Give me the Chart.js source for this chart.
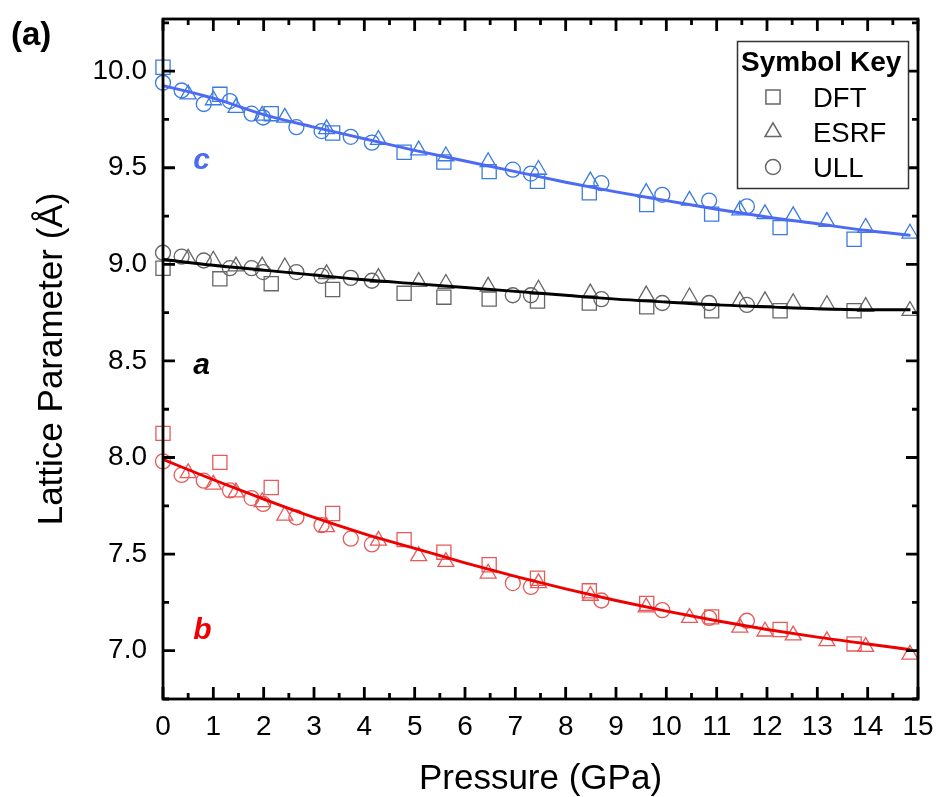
<!DOCTYPE html>
<html><head><meta charset="utf-8">
<script src="https://cdn.jsdelivr.net/npm/chart.js@4.4.1/dist/chart.umd.min.js"></script>
<style>html,body{margin:0;padding:0;background:#fff}#wrap{width:940px;height:797px}</style>
</head><body><div id="wrap"><canvas id="cv" width="940" height="797"></canvas></div>
<script>
// ---- tick labels ----
const xTicks = [0,1,2,3,4,5,6,7,8,9,10,11,12,13,14,15];
const yTicks = [7.0,7.5,8.0,8.5,9.0,9.5,10.0];
const xTitle = 'Pressure (GPa)';
const yTitle = 'Lattice Parameter (Å)';
const methods = ['DFT','ESRF','ULL'];
const seriesNames = ['c','a','b'];

// ---- DFT (squares) ----
const dftP = [0.0,1.13,2.15,3.37,4.79,5.58,6.48,7.44,8.47,9.61,10.9,12.26,13.73];
const dftC = [10.02,9.88,9.78,9.68,9.58,9.53,9.48,9.43,9.37,9.31,9.26,9.19,9.13];
const dftA = [8.98,8.925,8.90,8.87,8.85,8.83,8.82,8.81,8.80,8.78,8.76,8.76,8.76];
const dftB = [8.125,7.975,7.845,7.71,7.575,7.51,7.445,7.375,7.31,7.245,7.175,7.11,7.035];

// ---- ESRF (triangles) ----
const esrfP = [0.5,1.0,1.45,1.97,2.42,3.25,4.28,5.08,5.62,6.46,7.46,8.49,9.6,10.46,11.46,11.96,12.52,13.19,13.96,14.84];
const esrfC = [9.88,9.85,9.81,9.77,9.76,9.70,9.645,9.59,9.56,9.53,9.49,9.43,9.37,9.33,9.28,9.26,9.25,9.22,9.19,9.16];
const esrfA = [9.03,9.02,8.99,8.99,8.985,8.95,8.93,8.91,8.90,8.885,8.87,8.85,8.84,8.83,8.81,8.81,8.80,8.79,8.78,8.76];
const esrfB = [7.92,7.86,7.82,7.77,7.70,7.64,7.57,7.49,7.46,7.40,7.35,7.285,7.225,7.17,7.12,7.10,7.08,7.05,7.02,6.98];

// ---- ULL (circles) ----
const ullP = [0.0,0.37,0.81,1.33,1.76,1.99,2.65,3.15,3.73,4.15,6.95,7.31,8.71,9.92,10.85,11.6];
const ullC = [9.94,9.90,9.83,9.845,9.78,9.76,9.71,9.69,9.66,9.63,9.49,9.47,9.42,9.36,9.33,9.30];
const ullA = [9.06,9.04,9.02,8.98,8.98,8.96,8.96,8.94,8.93,8.915,8.84,8.84,8.82,8.80,8.80,8.79];
const ullB = [7.98,7.91,7.88,7.83,7.79,7.76,7.69,7.65,7.58,7.55,7.35,7.33,7.26,7.21,7.17,7.155];

// ---- fitted curves ----
const fitP = [0,1,2,3,4,5,6,7,8,9,10,11,12,13,14,14.85];
const fitC = [9.925,9.86,9.775,9.71,9.65,9.59,9.535,9.48,9.425,9.375,9.33,9.285,9.245,9.21,9.175,9.15];
const fitA = [9.025,8.995,8.97,8.945,8.92,8.90,8.88,8.86,8.84,8.82,8.805,8.79,8.78,8.77,8.765,8.765];
const fitB = [7.99,7.885,7.785,7.69,7.605,7.53,7.455,7.385,7.32,7.26,7.205,7.155,7.11,7.07,7.035,7.005];

const FONT = "'Liberation Sans', Arial, sans-serif";
const col = {
  c: {line:'#4d6af2', mark:'#3a7be0'},
  a: {line:'#000000', mark:'#666666'},
  b: {line:'#ee0000', mark:'#e85a5a'}
};
const zip = (xs, ys) => xs.map((x,i)=>({x:x, y:ys[i]}));

const styles = {DFT:{ps:'rect', r:10}, ESRF:{ps:'triangle', r:9.2}, ULL:{ps:'circle', r:7.5}};
const markerData = {
  c:{DFT:zip(dftP,dftC), ESRF:zip(esrfP,esrfC), ULL:zip(ullP,ullC)},
  a:{DFT:zip(dftP,dftA), ESRF:zip(esrfP,esrfA), ULL:zip(ullP,ullA)},
  b:{DFT:zip(dftP,dftB), ESRF:zip(esrfP,esrfB), ULL:zip(ullP,ullB)}
};
const fitData = {c:zip(fitP,fitC), a:zip(fitP,fitA), b:zip(fitP,fitB)};

const datasets = [];
seriesNames.forEach(s=>{
  datasets.push({label:s+' fit', data:fitData[s], showLine:true, borderColor:col[s].line,
    borderWidth:2.9, pointRadius:0, cubicInterpolationMode:'monotone', fill:false, order:0, clip:false});
});
seriesNames.forEach(s=>{
  methods.forEach(m=>{
    datasets.push({label:s+' '+m, data:markerData[s][m], showLine:false,
      pointStyle:styles[m].ps, pointRadius:styles[m].r, pointBorderWidth:1.3,
      borderColor:col[s].mark, backgroundColor:'rgba(0,0,0,0)', order:1, clip:false});
  });
});

const framePlugin = {
  id:'frame',
  afterDatasetsDraw(chart){
    const {ctx, chartArea:a, scales:{x,y}} = chart;
    ctx.save();
    ctx.strokeStyle = '#000';
    ctx.lineWidth = 2.8;
    ctx.lineCap = 'butt';
    ctx.beginPath();
    const MAJ = 12, MIN = 6;
    const xs = [];
    xTicks.forEach((v,i)=>{ xs.push([v,MAJ]); if(i<xTicks.length-1) xs.push([(v+xTicks[i+1])/2,MIN]); });
    xs.forEach(([v,len])=>{
      const px = x.getPixelForValue(v);
      ctx.moveTo(px, a.bottom); ctx.lineTo(px, a.bottom-len);
      ctx.moveTo(px, a.top); ctx.lineTo(px, a.top+len);
    });
    const ys = [];
    yTicks.forEach((v,i)=>{ ys.push([v,MAJ]); });
    const step = yTicks[1]-yTicks[0];
    for (let v = yTicks[0]-step/2; v <= y.max; v += step) ys.push([v,MIN]);
    ys.forEach(([v,len])=>{
      if (v < y.min || v > y.max) return;
      const py = y.getPixelForValue(v);
      ctx.moveTo(a.left, py); ctx.lineTo(a.left+len, py);
      ctx.moveTo(a.right, py); ctx.lineTo(a.right-len, py);
    });
    ctx.stroke();
    ctx.strokeRect(a.left, a.top, a.right-a.left, a.bottom-a.top);

    // series labels
    ctx.textAlign = 'left'; ctx.textBaseline = 'alphabetic';
    ctx.font = 'italic bold 30px ' + FONT;
    const lx = x.getPixelForValue(0.6);
    ctx.fillStyle = col.c.line; ctx.fillText('c', lx, y.getPixelForValue(9.495));
    ctx.fillStyle = '#000'; ctx.fillText('a', lx, y.getPixelForValue(8.43));
    ctx.fillStyle = col.b.line; ctx.fillText('b', lx, y.getPixelForValue(7.06));

    // panel label
    ctx.fillStyle = '#000';
    ctx.font = 'bold 33px ' + FONT;
    ctx.fillText('(a)', 11, 45);

    // legend box
    ctx.lineWidth = 1.5; ctx.strokeStyle = '#333';
    ctx.fillStyle = '#fff';
    ctx.fillRect(737.5, 41.5, 171, 147);
    ctx.strokeRect(737.5, 41.5, 171, 147);
    ctx.fillStyle = '#000';
    ctx.font = 'bold 28px ' + FONT;
    ctx.fillText('Symbol Key', 741, 71);
    ctx.font = '27.5px ' + FONT;
    const rows = [107, 142, 177];
    methods.forEach((m,i)=>{
      ctx.strokeStyle = '#666'; ctx.fillStyle = 'rgba(0,0,0,0)';
      Chart.helpers.drawPoint(ctx, {pointStyle:styles[m].ps, radius:styles[m].r, borderWidth:1.3, rotation:0}, 773, rows[i]-10);
      ctx.fillStyle = '#000';
      ctx.fillText(m, 813, rows[i]);
    });
    ctx.restore();
  }
};

function noPad(s){ s.paddingTop = 0; s.paddingBottom = 0; s.paddingLeft = 0; s.paddingRight = 0; }

new Chart(document.getElementById('cv'), {
  type:'scatter',
  data:{datasets:datasets},
  options:{
    responsive:false, animation:false, devicePixelRatio:1,
    layout:{padding:{left:0, right:22, top:19, bottom:0}},
    plugins:{legend:{display:false}, tooltip:{enabled:false}},
    scales:{
      x:{type:'linear', min:0, max:15,
        afterFit(s){ s.height = 98; noPad(s); },
        afterBuildTicks(s){ s.ticks = xTicks.map(v=>({value:v})); },
        grid:{display:false, drawTicks:false}, border:{display:false},
        ticks:{padding:11, color:'#000', font:{size:28, family:FONT}, maxRotation:0, autoSkip:false,
          callback:v=>String(v)},
        title:{display:true, text:xTitle, color:'#000', font:{size:35, family:FONT}, padding:{top:0,bottom:-3}}
      },
      y:{type:'linear', min:6.75, max:10.27,
        afterFit(s){ s.width = 163; noPad(s); },
        afterBuildTicks(s){ s.ticks = yTicks.map(v=>({value:v})); },
        grid:{display:false, drawTicks:false}, border:{display:false},
        ticks:{padding:16, color:'#000', font:{size:28, family:FONT}, autoSkip:false,
          callback:v=>Number(v).toFixed(1)},
        title:{display:true, text:yTitle, color:'#000', font:{size:35, family:FONT}, padding:{top:31,bottom:0}}
      }
    }
  },
  plugins:[framePlugin]
});
</script>
</body></html>
